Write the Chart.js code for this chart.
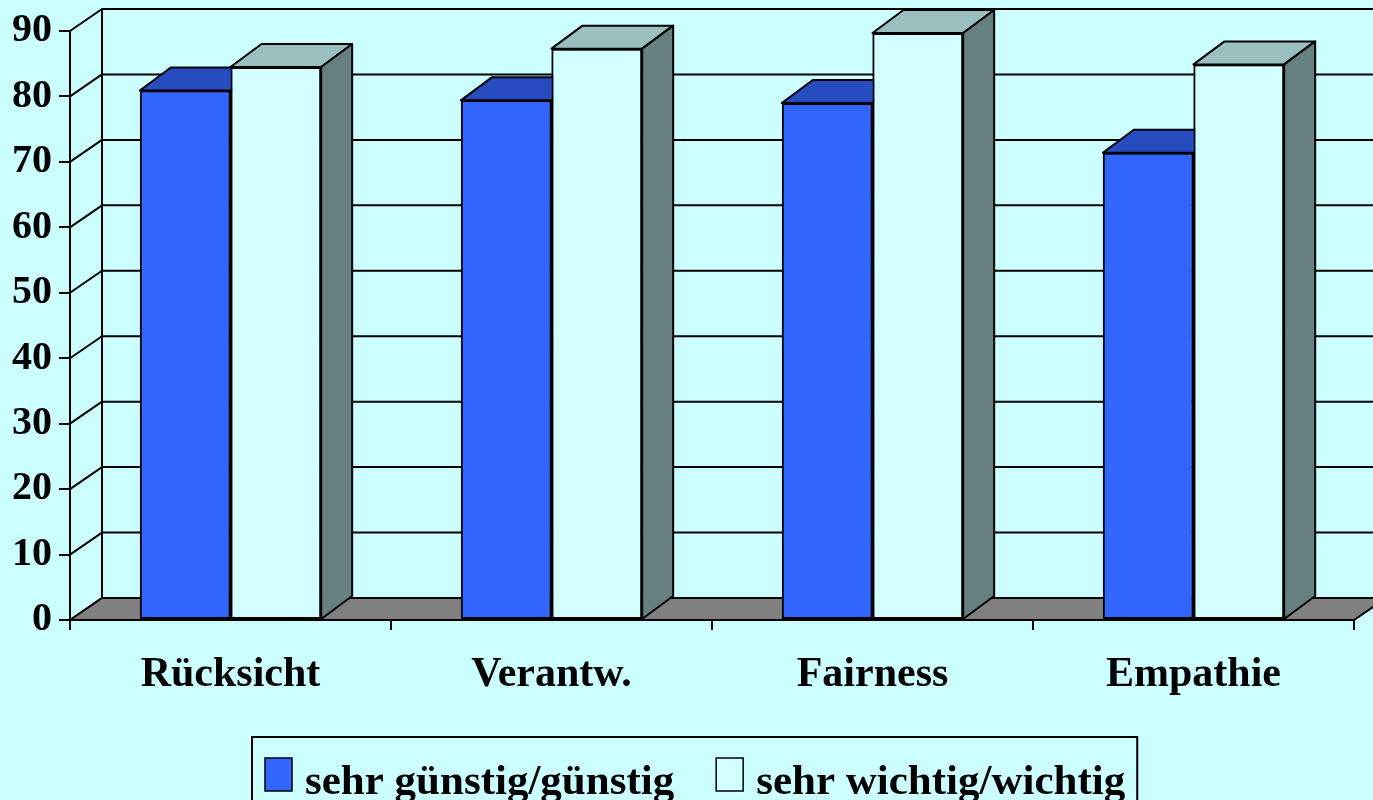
<!DOCTYPE html>
<html lang="de">
<head>
  <meta charset="UTF-8">
  <title>Rücksicht, Verantwortung, Fairness, Empathie</title>
  <script src="https://cdn.jsdelivr.net/npm/chart.js"></script>
  <style>
    html, body { margin: 0; padding: 0; background: #CCFFFF; }
    .wrap { position: relative; width: 1373px; height: 800px; overflow: hidden; }
  </style>
</head>
<body>
  <div class="wrap"><canvas id="chart"></canvas></div>

  <script>
    // data
    const categories = ['Rücksicht', 'Verantw.', 'Fairness', 'Empathie'];
    const seriesNames = ['sehr günstig/günstig', 'sehr wichtig/wichtig'];
    const guenstig = [80.9, 79.4, 79.0, 71.4];
    const wichtig = [84.5, 87.3, 89.7, 84.9];
    const yTicks = [0, 10, 20, 30, 40, 50, 60, 70, 80, 90];

    const FONT = "'Liberation Serif', 'Times New Roman', serif";
    const BG = '#CCFFFF';
    const wallDepth = { dx: 32, dy: -22 };
    const barDepth = { dx: 31, dy: -23 };

    // front / top / side colours for each series
    const faces = [
      { front: '#3366FF', top: '#264CBF', side: '#1A3380' },
      { front: '#D2FFFF', top: '#99C0BE', side: '#668080' }
    ];

    const box3d = {
      id: 'box3d',
      beforeDatasetsDraw(chart) {
        const { ctx, chartArea: a, scales: { y } } = chart;
        const { dx, dy } = wallDepth;
        ctx.save();
        ctx.strokeStyle = '#000';
        ctx.lineWidth = 2;
        ctx.lineJoin = 'round';

        // left wall diagonals + back wall gridlines
        yTicks.forEach(v => {
          const py = y.getPixelForValue(v);
          ctx.beginPath();
          ctx.moveTo(a.left, py);
          ctx.lineTo(a.left + dx, py + dy);
          ctx.lineTo(a.right + dx, py + dy);
          ctx.stroke();
        });

        const top = y.getPixelForValue(yTicks[yTicks.length - 1]);
        const b = y.getPixelForValue(0);
        ctx.beginPath();
        ctx.moveTo(a.left + dx, top + dy);
        ctx.lineTo(a.left + dx, b + dy);
        ctx.stroke();

        // floor
        ctx.beginPath();
        ctx.moveTo(a.left, b);
        ctx.lineTo(a.right, b);
        ctx.lineTo(a.right + dx, b + dy);
        ctx.lineTo(a.left + dx, b + dy);
        ctx.closePath();
        ctx.fillStyle = '#808080';
        ctx.fill();
        ctx.stroke();
        ctx.restore();
      },
      afterDatasetsDraw(chart) {
        // chart.js paints datasets last-to-first, so repaint them in series
        // order with their top and side faces to get the overlap right
        const ctx = chart.ctx;
        const { dx, dy } = barDepth;
        chart.data.datasets.forEach((ds, i) => {
          const f = faces[i];
          chart.getDatasetMeta(i).data.forEach(bar => {
            bar.draw(ctx, chart.chartArea);
            const { x, y, base, width } = bar.getProps(['x', 'y', 'base', 'width'], true);
            const x0 = x - width / 2, x1 = x + width / 2;
            ctx.save();
            ctx.strokeStyle = '#000';
            ctx.lineWidth = 2;
            ctx.lineJoin = 'round';

            ctx.beginPath();
            ctx.moveTo(x0, y);
            ctx.lineTo(x0 + dx, y + dy);
            ctx.lineTo(x1 + dx, y + dy);
            ctx.lineTo(x1, y);
            ctx.closePath();
            ctx.fillStyle = f.top;
            ctx.fill();
            ctx.stroke();

            ctx.beginPath();
            ctx.moveTo(x1, y);
            ctx.lineTo(x1 + dx, y + dy);
            ctx.lineTo(x1 + dx, base + dy);
            ctx.lineTo(x1, base);
            ctx.closePath();
            ctx.fillStyle = f.side;
            ctx.fill();
            ctx.stroke();
            ctx.restore();
          });
        });
      },
      afterDraw(chart) {
        // framed legend at the bottom
        const ctx = chart.ctx;
        const boxLeft = 252, boxTop = 737, baseY = 794;
        ctx.save();
        ctx.font = `bold 43px ${FONT}`;
        ctx.textBaseline = 'alphabetic';

        let x = 265;
        const items = [];
        seriesNames.forEach((name, i) => {
          const sq = { x: x, y: 758, w: 27, h: 33 };
          const tx = x + 40;
          const tw = ctx.measureText(name).width;
          items.push({ name, sq, tx, color: faces[i].front });
          x = tx + tw + 42;
        });
        const last = items[items.length - 1];
        const boxRight = last.tx + ctx.measureText(last.name).width + 12;

        ctx.fillStyle = BG;
        ctx.fillRect(boxLeft, boxTop, boxRight - boxLeft, 80);
        ctx.strokeStyle = '#000';
        ctx.lineWidth = 2;
        ctx.strokeRect(boxLeft, boxTop, boxRight - boxLeft, 80);

        items.forEach(it => {
          ctx.fillStyle = it.color;
          ctx.fillRect(it.sq.x, it.sq.y, it.sq.w, it.sq.h);
          ctx.lineWidth = 1.5;
          ctx.strokeRect(it.sq.x, it.sq.y, it.sq.w, it.sq.h);
          ctx.fillStyle = '#000';
          ctx.fillText(it.name, it.tx, baseY);
        });
        ctx.restore();
      }
    };

    const ctx = document.getElementById('chart').getContext('2d');
    new Chart(ctx, {
      type: 'bar',
      data: {
        labels: categories,
        datasets: [
          {
            label: seriesNames[0],
            data: guenstig,
            backgroundColor: faces[0].front,
            borderColor: '#000',
            borderWidth: 2,
            borderSkipped: false
          },
          {
            label: seriesNames[1],
            data: wichtig,
            backgroundColor: faces[1].front,
            borderColor: '#000',
            borderWidth: 2,
            borderSkipped: false
          }
        ]
      },
      options: {
        responsive: true,
        maintainAspectRatio: false,
        animation: false,
        categoryPercentage: 0.565,
        barPercentage: 1.0,
        layout: { padding: { top: 31, right: 19, bottom: 80, left: 0 } },
        plugins: {
          legend: { display: false },
          tooltip: { enabled: false }
        },
        scales: {
          x: {
            grid: { offset: true, drawOnChartArea: false, tickLength: 10, color: '#000', lineWidth: 2 },
            border: { color: '#000', width: 2 },
            ticks: {
              color: '#000',
              padding: 20,
              maxRotation: 0,
              font: { family: FONT, size: 42, weight: 'bold' }
            },
            afterFit: scale => { scale.height = 100; }
          },
          y: {
            min: 0,
            max: 90,
            grid: { drawOnChartArea: false, tickLength: 11, color: '#000', lineWidth: 2 },
            border: { color: '#000', width: 2 },
            ticks: {
              stepSize: 10,
              color: '#000',
              padding: 7,
              font: { family: FONT, size: 40, weight: 'bold' }
            },
            afterFit: scale => { scale.width = 70; }
          }
        }
      },
      plugins: [box3d]
    });
  </script>
</body>
</html>
